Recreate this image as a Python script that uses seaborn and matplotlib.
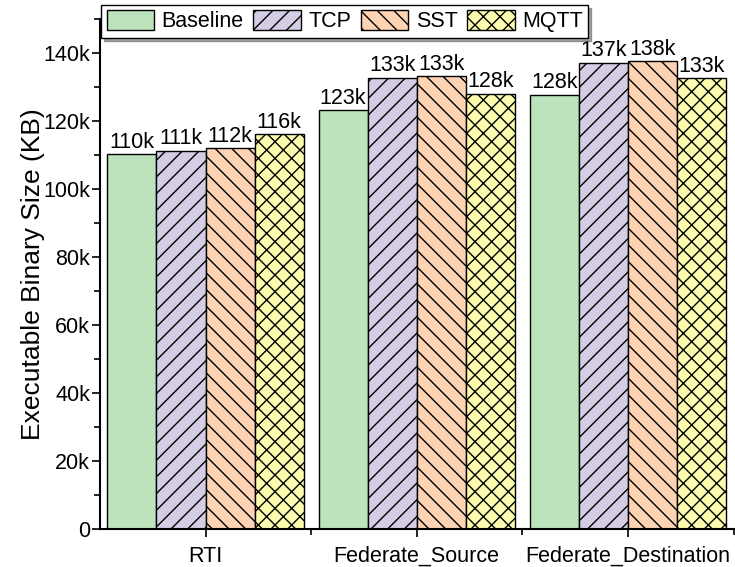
import pandas as pd
import matplotlib.pyplot as plt
import matplotlib.ticker as mticker
import seaborn as sns

# --- data (KB) ---
groups = ["RTI", "Federate_Source", "Federate_Destination"]
protocols = ["Baseline", "TCP", "SST", "MQTT"]
baseline = [110300, 123300, 127800]
tcp = [111300, 132800, 137200]
sst = [112000, 133200, 137600]
mqtt = [116100, 128100, 132700]

colors = ["#bde3bd", "#d4cde5", "#fdd3b3", "#fdfcae"]
hatches = ["", "//", "\\\\", "xx"]

rows = []
for proto, vals in zip(protocols, [baseline, tcp, sst, mqtt]):
    for g, v in zip(groups, vals):
        rows.append({"group": g, "protocol": proto, "size": v})
df = pd.DataFrame(rows)

sns.set_style("ticks")
plt.rcParams["font.family"] = ["Liberation Sans", "DejaVu Sans"]
plt.rcParams["hatch.linewidth"] = 1.0
for k in ["text.color", "axes.labelcolor", "xtick.color", "ytick.color", "axes.edgecolor"]:
    plt.rcParams[k] = "black"

fs = 15.5

fig = plt.figure(figsize=(7.35, 5.67), dpi=100)
ax = fig.add_axes([0.136, 0.067, 0.862, 0.899])

sns.barplot(data=df, x="group", y="size", hue="protocol", order=groups,
            hue_order=protocols, palette=colors, width=0.93, gap=0,
            edgecolor="black", linewidth=1.0, saturation=1, ax=ax)

for cont, h in zip(ax.containers, hatches):
    for bar in cont:
        bar.set_hatch(h)
    ax.bar_label(cont, labels=[f"{b.get_height()/1000:.0f}k" for b in cont],
                 fontsize=fs, padding=1)

ax.set_xlim(-0.5, 2.5)
ax.set_ylim(0, 150000)
ax.yaxis.set_major_locator(mticker.MultipleLocator(20000))
ax.yaxis.set_minor_locator(mticker.MultipleLocator(10000))
ax.yaxis.set_major_formatter(mticker.FuncFormatter(
    lambda v, p: "0" if v == 0 else f"{v/1000:.0f}k"))
ax.xaxis.set_minor_locator(mticker.FixedLocator([0.5, 1.5, 2.5]))

ax.tick_params(axis="both", which="major", labelsize=fs, length=6, width=1.2, direction="out")
ax.tick_params(axis="both", which="minor", length=4, width=1.2, direction="out")
ax.tick_params(axis="x", which="major", pad=6)
ax.tick_params(axis="y", which="major", pad=1)

for s in ["top", "right"]:
    ax.spines[s].set_visible(False)
for s in ["left", "bottom"]:
    ax.spines[s].set_linewidth(1.5)

ax.set_xlabel("")
ax.set_ylabel("Executable Binary Size (KB)", fontsize=19, labelpad=-1)

leg = ax.legend(loc="upper left", bbox_to_anchor=(0.002, 1.028), ncol=4,
                fontsize=fs, frameon=True, fancybox=False, shadow=True,
                handlelength=2.2, handleheight=1.0, handletextpad=0.35,
                columnspacing=0.45, borderpad=0.25, borderaxespad=0)
leg.get_frame().set_edgecolor("black")
leg.get_frame().set_linewidth(1.0)
for hd, h, c in zip(leg.legend_handles, hatches, colors):
    hd.set_hatch(h)
    hd.set_facecolor(c)
    hd.set_edgecolor("black")
    hd.set_linewidth(1.0)

fig.savefig("out.png", dpi=100)
plt.close(fig)
